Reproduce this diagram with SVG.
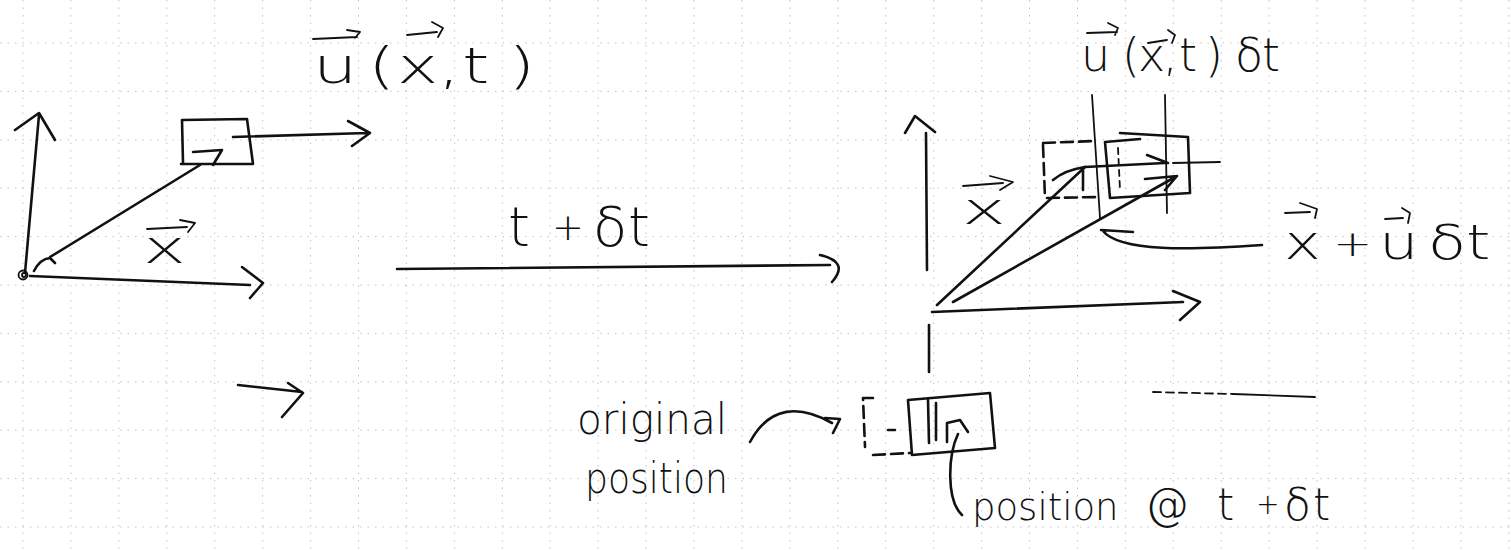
<svg xmlns="http://www.w3.org/2000/svg" width="1511" height="550" viewBox="0 0 1511 550">
<style>
.grid{stroke:#c4c4c4;stroke-width:1;stroke-dasharray:1.5 6;fill:none}
.ink{stroke:#111;stroke-width:2.6;fill:none;stroke-linecap:round;stroke-linejoin:round}
.thin{stroke:#111;stroke-width:1.8;fill:none;stroke-linecap:round;stroke-linejoin:round}
.dash{stroke-dasharray:12 6}
.hw{font-family:"DejaVu Sans","Liberation Sans",sans-serif;font-weight:200;fill:#111}
</style>
<rect width="1511" height="550" fill="#fff"/>
<g id="grid">
<path class="grid" d="M23,0V550M70.9,0V550M118.9,0V550M166.8,0V550M214.7,0V550M262.7,0V550M310.6,0V550M358.5,0V550M406.4,0V550M454.4,0V550M502.3,0V550M550.2,0V550M598.2,0V550M646.1,0V550M694,0V550M742,0V550M789.9,0V550M837.8,0V550M885.7,0V550M933.7,0V550M981.6,0V550M1029.5,0V550M1077.5,0V550M1125.4,0V550M1173.3,0V550M1221.3,0V550M1269.2,0V550M1317.1,0V550M1365,0V550M1413,0V550M1460.9,0V550M1508.8,0V550"/>
<path class="grid" d="M0,43H1511M0,91.4H1511M0,139.8H1511M0,188.2H1511M0,236.6H1511M0,285H1511M0,333.4H1511M0,381.8H1511M0,430.2H1511M0,478.6H1511M0,527H1511"/>
</g>
<g id="node-left-parcel">
<path class="ink" d="M182,120 L247,119 L253,164 L181,164 M182,120 L183,163"/>
<path class="ink" d="M193,152 L222,150 L213,165"/>
</g>
<g id="node-right-original-parcel">
<path class="ink dash" d="M1043,143 L1095,141 M1043,145 L1045,198 M1047,198 L1100,197"/>
</g>
<g id="node-right-moved-parcel">
<path class="ink" d="M1120,133 L1188,137 L1190,193 L1110,198 L1105,142 L1140,139"/>
<path class="thin" stroke-dasharray="6 5" d="M1118,148 L1120,190"/>
</g>
<g id="node-bottom-original">
<path class="ink dash" d="M873,398 L863,398 L865,447 M873,455 L910,453 M888,430 L895,430"/>
</g>
<g id="node-bottom-moved">
<path class="ink" d="M908,400 L990,393 L995,448 L912,455 Z"/>
<path class="ink" d="M928,400 L929,443 M936,403 L936,440"/>
<path class="ink" d="M947,442 L947,423 L960,420 L968,432"/>
</g>
<g id="connectors">
<circle class="thin" cx="23" cy="275" r="4.5"/>
<circle class="thin" cx="24" cy="275" r="2"/>
<path class="ink" d="M25,273 L39,115 M15,130 L39,113 L55,140"/>
<path class="ink" d="M30,276 L250,285 M242,267 L263,283 L250,298"/>
<path class="ink" d="M34,271 Q40,259 50,258 L55,263 M50,257 L200,165"/>
<path class="ink" d="M233,137 L367,133 M348,121 L370,133 L352,146"/>
<path class="ink" d="M397,269 L830,265 M820,255 Q850,262 832,282"/>
<path class="ink" d="M238,385 L302,392 M288,383 L303,393 L282,417"/>
<path class="ink" d="M926,133 L927,270 M905,133 L915,116 L935,132"/>
<path class="ink" d="M929,325 L929,372"/>
<path class="ink" d="M932,312 L1183,302 M1173,291 L1200,302 L1180,320"/>
<path class="ink" d="M937,305 L1085,167 M1053,180 Q1065,170 1085,167 M1083,170 L1083,190"/>
<path class="ink" d="M953,302 L1177,176 M1145,179 L1177,176 L1165,190"/>
<path class="ink" d="M1085,167 L1165,163 M1147,155 L1168,163"/>
<path class="thin" d="M1173,163 L1220,162"/>
<path class="thin" d="M1092,95 L1100,218 M1165,95 L1167,213"/>
<path class="ink" d="M1262,245 C1190,250 1120,252 1103,231 M1101,230 L1133,232"/>
<path class="ink" d="M750,442 C770,405 800,405 832,423 M825,418 L840,419 L833,433"/>
<path class="ink" d="M958,434 C948,455 946,500 962,515"/>
<path class="thin" d="M1233,394 L1315,397"/>
<path class="thin" stroke="#888" stroke-dasharray="8 5" d="M1153,392 L1233,394"/>
</g>
<g id="labels">
<text class="hw" font-size="50" y="83" transform="scale(1.4,1)"><tspan x="223.6">u</tspan><tspan x="262.9">(</tspan><tspan x="283.6">x</tspan><tspan x="312.9">,</tspan><tspan x="330">t</tspan><tspan x="362.9">)</tspan></text>
<path class="thin" d="M313,39 L357,37 M347,30 L360,32 L355,38 M407,35 L437,32 M432,22 L443,28 L438,37"/>
<text class="hw" font-size="46" x="143" y="263" textLength="43" lengthAdjust="spacingAndGlyphs">x</text>
<path class="thin" d="M147,229 L187,227 M180,220 L195,223 L188,232"/>
<text class="hw" font-size="56" y="246"><tspan x="508">t</tspan><tspan x="552" font-size="38" dy="-6">+</tspan><tspan x="593" dy="6">δ</tspan><tspan x="628">t</tspan></text>
<text class="hw" font-size="46" y="71"><tspan x="1081">u</tspan><tspan x="1122">(</tspan><tspan x="1138">x</tspan><tspan x="1163">,</tspan><tspan x="1179">t</tspan><tspan x="1205">)</tspan><tspan x="1235">δ</tspan><tspan x="1262">t</tspan></text>
<path class="thin" d="M1087,33 L1117,32 M1108,23 L1118,28 L1115,35 M1148,43 L1167,40 M1168,30 L1175,35 L1172,43"/>
<text class="hw" font-size="44" x="962" y="224" textLength="44" lengthAdjust="spacingAndGlyphs">x</text>
<path class="thin" d="M963,186 L1003,183 M990,176 L1013,182 L1000,190"/>
<text class="hw" font-size="48" y="259" transform="scale(1.3,1)"><tspan x="987.7">x</tspan><tspan x="1025.4" font-size="36" dy="-3">+</tspan><tspan x="1060.8" dy="3">u</tspan><tspan x="1098.5">δ</tspan><tspan x="1127.7">t</tspan></text>
<path class="thin" d="M1285,213 L1310,212 M1300,203 L1317,209 L1315,218 M1385,219 L1403,218 M1402,208 L1410,213 L1408,223"/>
<text class="hw" font-size="42" x="577" y="434" textLength="150" lengthAdjust="spacingAndGlyphs">original</text>
<text class="hw" font-size="42" x="585" y="493" textLength="143" lengthAdjust="spacingAndGlyphs">position</text>
<text class="hw" font-size="44" y="520"><tspan x="972" font-size="37">position</tspan><tspan x="1118" font-size="37"> </tspan><tspan x="1145">@</tspan><tspan x="1192"> </tspan><tspan x="1217">t</tspan><tspan x="1256" font-size="28" dy="-6">+</tspan><tspan x="1284" dy="6">δ</tspan><tspan x="1313">t</tspan></text>
</g>
</svg>
